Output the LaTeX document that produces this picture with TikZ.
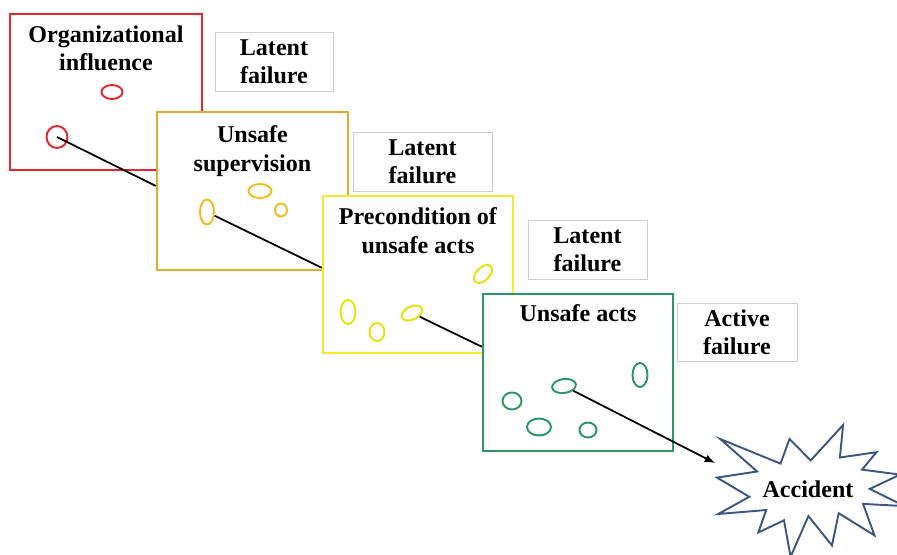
\documentclass[tikz,border=0pt]{standalone}
\usepackage{fontspec}
\setmainfont{Liberation Serif}
\usetikzlibrary{arrows,shapes,positioning}
\definecolor{orgred}{RGB}{232,36,44}
\definecolor{supgold}{RGB}{226,172,48}
\definecolor{supdot}{RGB}{238,190,30}
\definecolor{preyellow}{RGB}{244,234,46}
\definecolor{predot}{RGB}{232,226,10}
\definecolor{actgreen}{RGB}{44,150,104}
\definecolor{tagline}{RGB}{205,205,205}
\definecolor{burstblue}{RGB}{62,86,130}
\tikzstyle{plate} = [
  rectangle, draw, fill=white, line width=1.4pt, minimum width =
  3.82cm, minimum height = 3.14cm, inner sep=0pt
]
\tikzstyle{platetitle} = [
  text centered, align=center, inner sep=0pt,
  font=\bfseries\fontsize{13.7}{16.3}\selectfont
]
\tikzstyle{tag} = [
  rectangle, draw=tagline, line width=0.5pt, align=center, minimum height =
  1.18cm, inner sep=0pt, font=\bfseries\fontsize{13.7}{16}\selectfont
]
\tikzstyle{hole} = [ellipse, draw, line width=1.1pt, inner sep=0pt]

\begin{document}
\begin{tikzpicture}[x=0.02cm, y=-0.02cm]
    \useasboundingbox (0,0) rectangle (897,555);
    \clip (0,0) rectangle (897,555);

    % organizational layer
    \node[plate, draw=orgred, minimum width=3.84cm, minimum height=3.12cm] (org) at (106,92) {};
    \node[platetitle, below=7pt of org.north] (orgtitle) {Organizational\\influence};
    \node[hole, draw=orgred, minimum width=0.42cm, minimum height=0.28cm] (ro1) at (112,92) {};
    \node[hole, draw=orgred, minimum width=0.42cm, minimum height=0.44cm] (ro2) at (57,137) {};
    \node[tag, minimum width=2.36cm] (lat1) at (274,62) {Latent\\failure};

    % supervision layer
    \node[plate, draw=supgold, minimum width=3.82cm, minimum height=3.16cm] (sup) at (252.5,191) {};
    \node[platetitle, below=8.3pt of sup.north] (suptitle) {Unsafe\\supervision};
    \draw[line width=1pt] (ro2.center) -- (sup.177.3);
    \node[hole, draw=supdot, minimum width=0.46cm, minimum height=0.28cm] (so1) at (260,191) {};
    \node[hole, draw=supdot, minimum width=0.24cm, minimum height=0.26cm] (so2) at (281,210) {};
    \node[hole, draw=supdot, minimum width=0.28cm, minimum height=0.5cm] (so3) at (207,212) {};
    \node[tag, minimum width=2.78cm] (lat2) at (422.5,162) {Latent\\failure};

    % precondition layer
    \node[plate, draw=preyellow, minimum width=3.8cm, minimum height=3.14cm] (pre) at (418,274.5) {};
    \node[platetitle, below=7.2pt of pre.north] (pretitle) {Precondition of\\unsafe acts};
    \draw[line width=1pt] (so3) -- (pre.176.6);
    \node[hole, draw=predot, minimum width=0.44cm, minimum height=0.26cm, rotate=45] (po1) at (483,274) {};
    \node[hole, draw=predot, minimum width=0.3cm, minimum height=0.48cm] (po2) at (348,312) {};
    \node[hole, draw=predot, minimum width=0.3cm, minimum height=0.36cm] (po3) at (377,332) {};
    \node[hole, draw=predot, minimum width=0.44cm, minimum height=0.26cm, rotate=25] (po4) at (412,313) {};
    \node[tag, minimum width=2.38cm] (lat3) at (587.5,249.5) {Latent\\failure};

    % unsafe acts layer
    \node[plate, draw=actgreen, minimum width=3.8cm, minimum height=3.14cm] (acts) at (578,372.5) {};
    \node[platetitle, below=6.6pt of acts.north] (actstitle) {Unsafe acts};
    \draw[line width=1pt] (po4) -- (acts.165.5);
    \node[hole, draw=actgreen, minimum width=0.3cm, minimum height=0.48cm] (ao1) at (640,375) {};
    \node[hole, draw=actgreen, minimum width=0.48cm, minimum height=0.28cm, rotate=8] (ao2) at (564,386) {};
    \node[hole, draw=actgreen, minimum width=0.38cm, minimum height=0.34cm] (ao3) at (512,401) {};
    \node[hole, draw=actgreen, minimum width=0.48cm, minimum height=0.34cm] (ao4) at (539,427) {};
    \node[hole, draw=actgreen, minimum width=0.34cm, minimum height=0.3cm] (ao5) at (588,430) {};
    \node[tag, minimum width=2.4cm, minimum height=1.16cm] (act) at (737,332) {Active\\failure};

    % accident burst
    \draw[burstblue, line width=1.1pt, line join=miter, fill=white]
      (810.7,460.4) -- (843.1,425) -- (839.9,457.5) -- (876.5,452.2)
      -- (862.0,469.6) -- (900.1,474.6) -- (869.8,488.9) -- (904.5,506.1)
      -- (863.1,503.9) -- (874.5,535.4) -- (838.7,513.2) -- (832.0,545.4)
      -- (808.4,516.1) -- (790.6,556.8) -- (784.0,520.3) -- (758.3,532.5)
      -- (766.2,510.0) -- (718.2,514.0) -- (749.3,496.8) -- (717,477.6)
      -- (757.2,471.5) -- (720.2,439.0) -- (780.5,463.6) -- (789.5,439.0)
      -- cycle;
    \node[platetitle] (accident) at (808,489) {Accident};
    \coordinate (hit) at (715,463);
    \draw[-latex, line width=1pt] (ao2) -- (hit);
  \end{tikzpicture}
\end{document}
